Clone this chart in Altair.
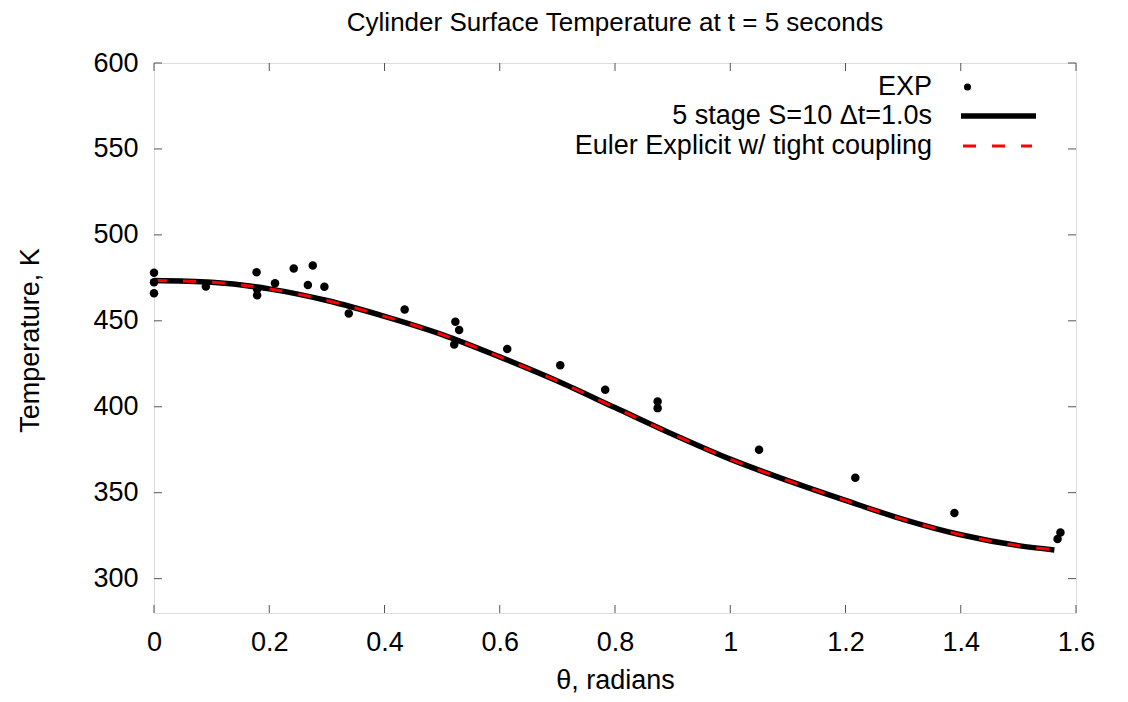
import altair as alt
import pandas as pd

# ---- data ----
theta_exp = [0.0, 0.0, 0.0, 0.09, 0.178, 0.179, 0.179, 0.21, 0.2425, 0.267, 0.2755,
             0.2957, 0.338, 0.435, 0.521, 0.523, 0.5295, 0.613, 0.705, 0.783, 0.874,
             0.874, 1.05, 1.217, 1.389, 1.568, 1.573]
temp_exp = [477.9, 472.5, 466.1, 470.0, 478.3, 468.3, 464.9, 471.9, 480.4, 470.9, 482.2,
            469.8, 454.3, 456.6, 436.2, 449.4, 444.6, 433.6, 424.2, 409.9, 403.1,
            399.2, 375.0, 358.7, 338.2, 323.1, 326.9]

theta_curve = [0.0, 0.1, 0.2, 0.3, 0.4, 0.5, 0.6, 0.7, 0.8, 0.9, 1.0, 1.1, 1.2, 1.3,
               1.4, 1.5, 1.5625]
temp_5stage = [473.5, 472.4, 468.6, 461.8, 452.6, 442.0, 429.0, 415.0, 399.5, 384.0,
               369.5, 357.0, 345.5, 334.5, 325.5, 319.2, 316.7]
temp_euler = [473.5, 472.4, 468.6, 461.8, 452.6, 442.0, 429.0, 415.0, 399.5, 384.0,
              369.5, 357.0, 345.5, 334.5, 325.5, 319.2, 316.7]

x_ticks = [0, 0.2, 0.4, 0.6, 0.8, 1.0, 1.2, 1.4, 1.6]
y_ticks = [300, 350, 400, 450, 500, 550, 600]

legend_labels = ["EXP", "5 stage S=10 \u0394t=1.0s", "Euler Explicit w/ tight coupling"]

title_text = "Cylinder Surface Temperature at t = 5 seconds"
x_title = "\u03b8, radians"
y_title = "Temperature, K"

# ---- layout ----
W, H = 922, 550
FONT = "Liberation Sans"
FS = 27

df_exp = pd.DataFrame({"theta": theta_exp, "T": temp_exp})
df_5 = pd.DataFrame({"theta": theta_curve, "T": temp_5stage})
df_eu = pd.DataFrame({"theta": theta_curve, "T": temp_euler})
df_xt = pd.DataFrame({"theta": x_ticks})
df_yt = pd.DataFrame({"T": y_ticks})

xs = alt.Scale(domain=[0, 1.6], nice=False, zero=False)
ys = alt.Scale(domain=[280, 600], nice=False, zero=False)

x_axis = alt.Axis(values=x_ticks, format="~g", tickSize=0, domain=False, grid=False,
                  labelFont=FONT, labelFontSize=FS, labelColor="black", labelPadding=16,
                  title=x_title, titleFont=FONT, titleFontSize=FS, titleFontWeight="normal",
                  titleColor="black", titleX=W / 2, titleY=75, titleAlign="center",
                  titleBaseline="alphabetic", labelFlush=False)
y_axis = alt.Axis(values=y_ticks, tickSize=0, domain=False, grid=False,
                  labelFont=FONT, labelFontSize=FS, labelColor="black", labelPadding=16,
                  title=y_title, titleFont=FONT, titleFontSize=FS, titleFontWeight="normal",
                  titleColor="black", titleX=-116, titleY=H / 2 + 2, titleAngle=270,
                  titleAlign="center", titleBaseline="alphabetic", labelFlush=False)

X = alt.X("theta:Q", scale=xs, axis=x_axis)
Y = alt.Y("T:Q", scale=ys, axis=y_axis)

line5 = alt.Chart(df_5).mark_line(color="black", strokeWidth=5.5, interpolate="monotone",
                                  strokeCap="butt").encode(x=X, y=Y)
lineeu = alt.Chart(df_eu).mark_line(color="#ff0000", strokeWidth=3, strokeDash=[13, 16],
                                    interpolate="monotone", strokeCap="butt").encode(x=X, y=Y)
pts = alt.Chart(df_exp).mark_circle(color="black", size=72, opacity=1).encode(x=X, y=Y)

TL = 8
tick_style = dict(color="#555555", strokeWidth=1)
tb = alt.Chart(df_xt).mark_rule(**tick_style).encode(x=X, y=alt.value(H), y2=alt.value(H - TL))
tt = alt.Chart(df_xt).mark_rule(**tick_style).encode(x=X, y=alt.value(0), y2=alt.value(TL))
tl = alt.Chart(df_yt).mark_rule(**tick_style).encode(y=Y, x=alt.value(0), x2=alt.value(TL))
tr = alt.Chart(df_yt).mark_rule(**tick_style).encode(y=Y, x=alt.value(W), x2=alt.value(W - TL))

# ---- title as a text mark above the plot ----
title_mark = alt.Chart(pd.DataFrame({"t": [title_text]})).mark_text(
    font=FONT, fontSize=26, align="center", baseline="alphabetic", color="black"
).encode(x=alt.value(W / 2), y=alt.value(-32), text="t:N")

# ---- legend (drawn inside the plot, top right) ----
LX_TEXT = 778
LX0, LX1 = 807, 882
rows_y = [24, 53, 83]
leg = []
for lab, ry in zip(legend_labels, rows_y):
    leg.append(alt.Chart(pd.DataFrame({"label": [lab]})).mark_text(
        font=FONT, fontSize=FS, align="right", baseline="middle", color="black"
    ).encode(x=alt.value(LX_TEXT), y=alt.value(ry), text="label:N"))

one = pd.DataFrame({"k": [0]})
leg_dot = alt.Chart(one).mark_circle(color="black", size=50, opacity=1).encode(
    x=alt.value((LX0 + LX1) / 2 - 31), y=alt.value(rows_y[0]))
leg_l5 = alt.Chart(one).mark_rule(color="black", strokeWidth=5.5).encode(
    x=alt.value(LX0), x2=alt.value(LX1), y=alt.value(rows_y[1]))
leg_eu = alt.Chart(one).mark_rule(color="#ff0000", strokeWidth=3, strokeDash=[13, 16]).encode(
    x=alt.value(LX0 + 2), x2=alt.value(LX1 - 4), y=alt.value(rows_y[2]))

chart = alt.layer(
    line5, lineeu, pts, tb, tt, tl, tr, title_mark, *leg, leg_dot, leg_l5, leg_eu
).properties(
    width=W, height=H,
    autosize=alt.AutoSizeParams(type="none"),
    padding={"left": 146, "top": 55, "right": 36, "bottom": 81},
).configure_view(
    stroke="black", strokeWidth=1.5
).configure(background="white")

chart.save("out.html", embed_options={"renderer": "svg", "actions": False})
